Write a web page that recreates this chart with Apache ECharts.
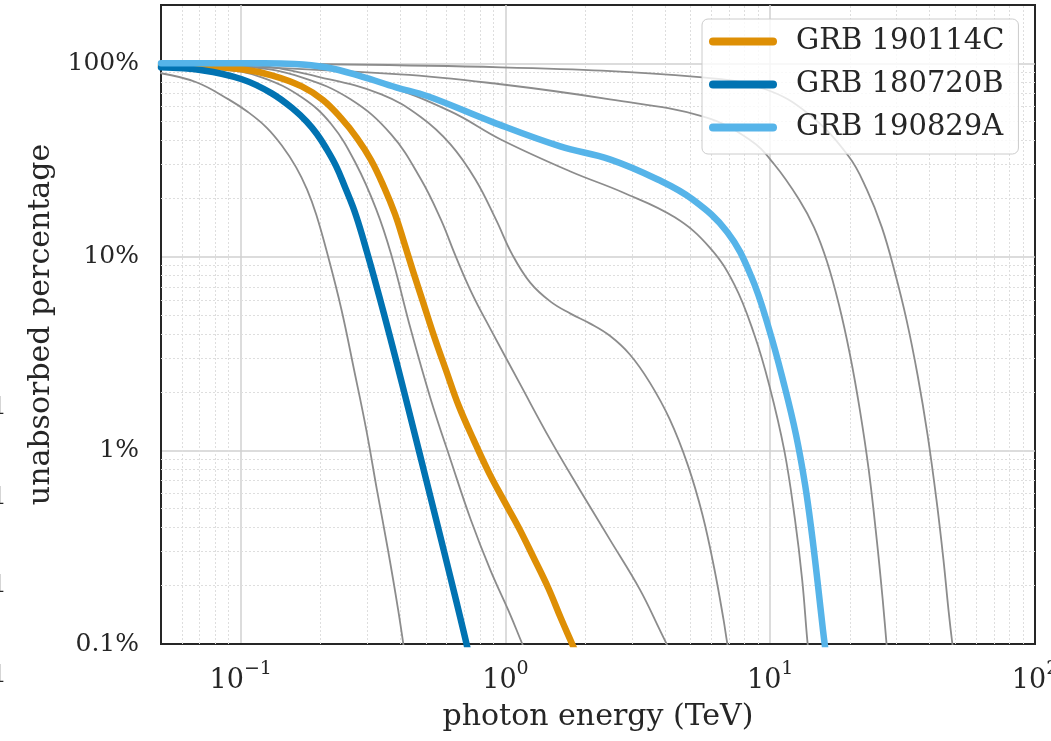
<!DOCTYPE html>
<html>
<head>
<meta charset="utf-8">
<script src="https://cdn.jsdelivr.net/npm/echarts@6/dist/echarts.min.js"></script>
<style>
html, body { margin: 0; padding: 0; background: #ffffff; overflow: hidden; }
#chart { width: 1051px; height: 741px; }
</style>
</head>
<body>
<div id="chart"></div>
<script>
// Unabsorbed fraction of photons (percent) against photon energy (TeV): [E, %]
const grb190114C = [[0.05,97.6],[0.0714,96.5],[0.101,93.1],[0.131,86.7],[0.17,76.0],[0.2045,64.6],[0.239,52.2],[0.275,41.1],[0.3105,31.65],[0.3476,22.96],[0.3825,16.65],[0.4136,11.94],[0.4473,8.455],[0.4881,5.846],[0.537,3.902],[0.5958,2.604],[0.666,1.70],[0.758,1.134],[0.863,0.775],[0.983,0.555],[1.119,0.4025],[1.274,0.2815],[1.451,0.1946],[1.624,0.1345],[1.786,0.1],[1.881,0.0846]];
const grb180720B = [[0.05,95.3],[0.0714,92.0],[0.101,82.7],[0.131,69.9],[0.162,56.4],[0.178,49.7],[0.194,43.1],[0.21,36.5],[0.229,29.5],[0.2476,22.96],[0.2655,18.1],[0.2821,14.1],[0.2997,10.6],[0.3186,7.87],[0.3476,5.07],[0.3859,2.934],[0.4282,1.677],[0.4754,0.948],[0.5278,0.5355],[0.5856,0.3025],[0.6502,0.169],[0.697,0.114],[0.7215,0.093]];
const grb190829A = [[0.05,100],[0.12,99.9],[0.16,99.2],[0.21,95.3],[0.285,85.6],[0.386,75.1],[0.509,67.5],[0.90,49.5],[1.61,37.2],[2.48,31.9],[3.76,25.1],[5.09,19.8],[6.89,13.4],[8.48,7.92],[9.91,4.21],[11.29,2.18],[12.52,1.2],[13.54,0.664],[14.38,0.366],[15.15,0.2],[15.82,0.118],[16.3,0.085]];

// Other bursts, drawn in gray
const otherA = [[0.05,88.8],[0.068,79.8],[0.09,65.1],[0.1065,56.0],[0.125,46.7],[0.143,37.6],[0.162,29.0],[0.178,22.3],[0.193,16.5],[0.214,10.0],[0.24,5.36],[0.268,2.61],[0.298,1.28],[0.327,0.625],[0.36,0.306],[0.393,0.151],[0.417,0.088]];
const otherB = [[0.05,96.5],[0.085,93.1],[0.12,84.6],[0.17,66.7],[0.22,48.4],[0.273,30.1],[0.325,17.6],[0.37,10.3],[0.439,4.21],[0.522,1.84],[0.621,0.89],[0.739,0.44],[0.878,0.24],[1.044,0.141],[1.158,0.1],[1.21,0.088]];
const otherC = [[0.05,98.8],[0.11,95.3],[0.17,84.6],[0.26,65.1],[0.37,42.9],[0.48,25.1],[0.57,15.6],[0.65,10.0],[0.75,6.4],[0.88,4.21],[1.14,2.18],[1.48,1.13],[1.91,0.625],[2.48,0.346],[3.22,0.191],[3.83,0.118],[4.25,0.088]];
const otherD = [[0.05,99.5],[0.11,97.6],[0.2,84.6],[0.34,69.1],[0.48,52.6],[0.62,38.1],[0.77,25.1],[0.92,15.6],[1.06,10.3],[1.24,7.36],[1.48,5.87],[1.76,5.09],[2.09,4.52],[2.48,3.91],[2.95,3.13],[3.51,2.24],[4.17,1.45],[4.88,0.842],[5.55,0.464],[6.16,0.242],[6.66,0.134],[6.89,0.1],[7.07,0.0855]];
const otherE = [[0.05,100],[0.17,96.5],[0.34,77.9],[0.62,56.4],[0.96,40.4],[1.76,27.6],[2.78,21.5],[4.36,16.0],[5.90,11.2],[7.32,7.19],[8.71,3.96],[9.91,2.18],[11.3,1.0],[12.4,0.44],[13.2,0.215],[13.8,0.105],[14.0,0.088]];
const otherF = [[0.05,99.5],[0.40,87.7],[0.96,77.9],[2.48,65.1],[5.55,53.2],[8.34,40.4],[10.35,30.1],[12.85,19.8],[14.64,14.2],[16.38,9.46],[18.17,5.67],[20.0,3.13],[21.8,1.62],[23.56,0.79],[25.25,0.346],[26.6,0.169],[27.5,0.1],[27.8,0.0855]];
const otherG = [[0.05,100],[0.96,95.3],[5.55,84.6],[9.58,73.4],[14.0,54.5],[19.8,33.0],[23.15,22.3],[26.4,14.2],[29.5,8.4],[32.7,4.74],[36.0,2.46],[39.3,1.2],[42.45,0.555],[45.1,0.273],[47.1,0.151],[48.75,0.1],[49.6,0.0855]];

// Axis ranges and minor grid positions
const xRange = [0.05, 100];
const yRange = [0.1, 200];
const xMinor = [0.06,0.07,0.08,0.09,0.2,0.3,0.4,0.5,0.6,0.7,0.8,0.9,2,3,4,5,6,7,8,9,20,30,40,50,60,70,80,90];
const yMinor = [0.2,0.3,0.4,0.5,0.6,0.7,0.8,0.9,2,3,4,5,6,7,8,9,20,30,40,50,60,70,80,90];

const FONT = 'DejaVu Serif';
const INK = '#262626';
const GRAY = '#8c8c8c';
const SMOOTH = 0.4;

const highlighted = [
  { name: 'GRB 190114C', data: grb190114C, color: '#DE8F05' },
  { name: 'GRB 180720B', data: grb180720B, color: '#0173B2' },
  { name: 'GRB 190829A', data: grb190829A, color: '#56B4E9' }
];
const others = [otherA, otherB, otherC, otherD, otherE, otherF, otherG];

function isPow10(v) {
  const l = Math.log10(v);
  return Math.abs(l - Math.round(l)) < 1e-6;
}

const series = [];
// minor grid (dotted)
series.push({
  type: 'line', name: 'minor-grid', data: [], silent: true, z: 0,
  markLine: {
    silent: true, z: 1, animation: false, symbol: ['none', 'none'],
    label: { show: false },
    emphasis: { disabled: true },
    lineStyle: { color: '#dedede', width: 1, type: [2, 2] },
    data: xMinor.map(v => ({ xAxis: v })).concat(yMinor.map(v => ({ yAxis: v })))
  }
});
others.forEach((d, i) => {
  series.push({
    type: 'line', name: 'other-' + i, data: d, showSymbol: false, symbol: 'none',
    smooth: SMOOTH, silent: true, z: 2,
    lineStyle: { color: GRAY, width: 1.8, cap: 'round', join: 'round' }
  });
});
highlighted.forEach(h => {
  series.push({
    type: 'line', name: h.name, data: h.data, showSymbol: false, symbol: 'none',
    smooth: SMOOTH, z: 3, color: h.color,
    lineStyle: { color: h.color, width: 6.5, cap: 'round', join: 'round' }
  });
});

const splitStyle = { show: true, showMinLine: false, showMaxLine: false, lineStyle: { color: '#d0d0d0', width: 1.5 } };

const chart = echarts.init(document.getElementById('chart'), null, { renderer: 'canvas', width: 1051, height: 741 });
chart.setOption({
  animation: false,
  backgroundColor: '#ffffff',
  textStyle: { fontFamily: FONT, color: INK },
  grid: {
    left: 161, top: 5, right: 16, bottom: 97,
    show: true, borderColor: INK, borderWidth: 2,
    containLabel: false, outerBoundsMode: 'none'
  },
  legend: {
    data: highlighted.map(h => h.name),
    orient: 'vertical', left: 702, top: 19,
    padding: [8, 14, 12, 7], itemGap: 14, itemWidth: 68, itemHeight: 8,
    icon: 'path://M4,0 L64,0 A4,4 0 0 1 64,8 L4,8 A4,4 0 0 1 4,0 Z',
    backgroundColor: 'rgba(255,255,255,0.8)', borderColor: '#cccccc', borderWidth: 1, borderRadius: 6,
    textStyle: { fontFamily: FONT, fontSize: 29, color: INK, padding: [0, 0, 0, 14] },
    selectedMode: false
  },
  xAxis: {
    type: 'log', logBase: 10, min: xRange[0], max: xRange[1],
    name: 'photon energy (TeV)', nameLocation: 'middle', nameGap: 58,
    nameTextStyle: { fontFamily: FONT, fontSize: 30, color: INK },
    axisLine: { show: true, lineStyle: { color: INK, width: 2 } }, axisTick: { show: false },
    splitLine: splitStyle,
    axisLabel: {
      margin: 16, color: INK, fontFamily: FONT,
      showMinLabel: true, showMaxLabel: true, hideOverlap: false,
      formatter: v => {
        if (!isPow10(v)) return '';
        const k = Math.round(Math.log10(v));
        return '{b|10}{s|' + (k < 0 ? '\u2212' + (-k) : k) + '}';
      },
      rich: {
        b: { fontFamily: FONT, fontSize: 27, color: INK, lineHeight: 34, verticalAlign: 'bottom' },
        s: { fontFamily: FONT, fontSize: 19, color: INK, lineHeight: 22, verticalAlign: 'top' }
      }
    }
  },
  yAxis: {
    type: 'log', logBase: 10, min: yRange[0], max: yRange[1],
    name: 'unabsorbed percentage', nameLocation: 'middle', nameGap: 94, nameRotate: 90,
    nameTextStyle: { fontFamily: FONT, fontSize: 30, color: INK },
    axisLine: { show: true, lineStyle: { color: INK, width: 2 } }, axisTick: { show: false },
    splitLine: splitStyle,
    axisLabel: {
      margin: 22, color: INK, fontFamily: FONT, fontSize: 25,
      showMinLabel: true, showMaxLabel: true,
      formatter: v => {
        if (!isPow10(v)) return '';
        const k = Math.round(Math.log10(v));
        return (k < 0 ? '0.1' : String(Math.pow(10, k))) + '%';
      }
    }
  },
  graphic: [410, 500, 588, 678].map(y => ({
    type: 'text', left: -9, top: y - 15, silent: true,
    style: { text: '1', font: '25px "DejaVu Serif"', fill: INK }
  })),
  series: series
});
</script>
</body>
</html>
